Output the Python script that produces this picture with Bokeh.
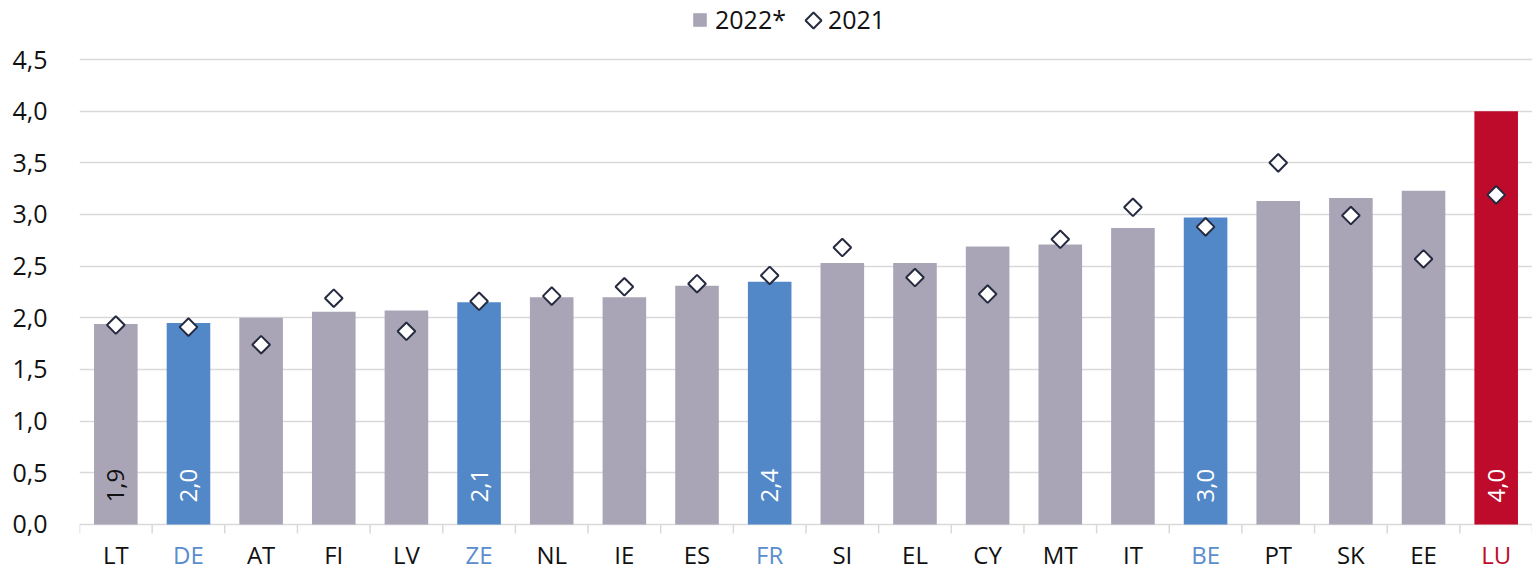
import numpy as np
from bokeh.plotting import figure
from bokeh.models import (ColumnDataSource, Range1d, FixedTicker, Legend, LegendItem,
                          PolyAnnotation)
from bokeh.core.properties import value
from bokeh.embed import file_html
from bokeh.resources import INLINE

# ---- data ----
countries = ["LT", "DE", "AT", "FI", "LV", "ZE", "NL", "IE", "ES", "FR",
             "SI", "EL", "CY", "MT", "IT", "BE", "PT", "SK", "EE", "LU"]
v2022 = [1.94, 1.95, 2.00, 2.06, 2.07, 2.15, 2.20, 2.20, 2.31, 2.35,
         2.53, 2.53, 2.69, 2.71, 2.87, 2.97, 3.13, 3.16, 3.23, 4.00]
v2021 = [1.93, 1.91, 1.74, 2.19, 1.87, 2.16, 2.21, 2.30, 2.33, 2.41,
         2.68, 2.39, 2.23, 2.76, 3.07, 2.88, 3.50, 2.99, 2.57, 3.19]
bar_labels = ["1,9", "2,0", "", "", "", "2,1", "", "", "", "2,4",
              "", "", "", "", "", "3,0", "", "", "", "4,0"]
groups = ["other", "focus", "other", "other", "other", "focus", "other", "other", "other", "focus",
          "other", "other", "other", "other", "other", "focus", "other", "other", "other", "lu"]
y_ticks = [0.0, 0.5, 1.0, 1.5, 2.0, 2.5, 3.0, 3.5, 4.0, 4.5]

# ---- styles ----
GRAY = "#a9a5b6"
BLUE = "#5288c7"
RED = "#be0a2b"
DARK = "#111111"
GRID = "#d9d9d9"
MARK_LINE = "#262a40"
FONT = "Open Sans"
bar_color_map = {"other": GRAY, "focus": BLUE, "lu": RED}
label_color_map = {"other": DARK, "focus": "#5a8dcd", "lu": RED}
in_color_map = {"other": DARK, "focus": "white", "lu": "white"}

n = len(countries)
xs = list(range(n))
src = ColumnDataSource(dict(
    x=xs,
    country=countries,
    v2022=v2022,
    v2021=v2021,
    bar_label=bar_labels,
    color=[bar_color_map[g] for g in groups],
    label_color=[label_color_map[g] for g in groups],
    in_color=[in_color_map[g] for g in groups],
))

H = 571
LEFT = 79
p = figure(width=1532, height=H,
           x_range=Range1d(-0.5, n - 0.5), y_range=Range1d(-0.455, 5.071),
           output_backend="svg", toolbar_location=None,
           min_border_left=LEFT, min_border_right=0,
           min_border_top=0, min_border_bottom=0)
p.outline_line_color = None
p.background_fill_color = "white"
p.xaxis.visible = False
p.xgrid.visible = False

p.ygrid.ticker = FixedTicker(ticks=y_ticks)
p.ygrid.grid_line_color = GRID
p.ygrid.grid_line_width = 1.5
p.yaxis.ticker = FixedTicker(ticks=y_ticks)
p.yaxis.major_label_overrides = {t: f"{t:.1f}".replace(".", ",") for t in y_ticks}
p.yaxis.axis_line_color = None
p.yaxis.major_tick_line_color = None
p.yaxis.minor_tick_line_color = None
p.yaxis.major_label_text_font_size = "25px"
p.yaxis.major_label_text_font = FONT
p.yaxis.major_label_text_color = DARK
p.yaxis.major_label_standoff = 26

bars = p.vbar(x="x", top="v2022", bottom=0, width=0.6, source=src,
              fill_color="color", line_color=None)
diam = p.scatter(x="x", y="v2021", source=src, marker="square", angle=np.pi / 4,
                 size=12.5, fill_color="white", line_color=MARK_LINE, line_width=2)

# category separator ticks below the zero line
bounds = [i - 0.5 for i in range(n + 1)]
p.segment(x0=bounds, y0=[0] * len(bounds), x1=bounds, y1=[-0.087] * len(bounds),
          line_color=GRID, line_width=1.5)

# category labels
p.text(x="x", y=0, text="country", source=src, text_color="label_color",
       text_align="center", text_baseline="middle", y_offset=30,
       text_font=value(FONT), text_font_size="24px")

# in-bar value labels
p.text(x="x", y=0, text="bar_label", source=src, text_color="in_color",
       angle=np.pi / 2, text_align="left", text_baseline="middle", y_offset=-22,
       text_font=value(FONT), text_font_size="24px")

# legend (2021 symbol drawn as a rotated-square annotation over an invisible glyph)
legend_dummy = p.scatter(x=[], y=[], marker="square", size=1,
                         fill_alpha=0, line_alpha=0)
legend = Legend(items=[LegendItem(label="2022*", renderers=[bars], index=0),
                       LegendItem(label="2021", renderers=[legend_dummy])],
                orientation="horizontal", location=(612, H - 36),
                padding=0, margin=0, spacing=18, label_standoff=7,
                glyph_width=17, glyph_height=17,
                label_text_font_size="25px", label_text_font=FONT,
                label_text_color=DARK,
                border_line_color=None, background_fill_alpha=0)
p.add_layout(legend)
# symbol centre: 813 px from the page's left, 20 px from its top (frame-relative, y from bottom)
cx, cy, r = 813 - LEFT, H - 20, 8
p.add_layout(PolyAnnotation(xs=[cx, cx + r, cx, cx - r], ys=[cy + r, cy, cy - r, cy],
                            xs_units="screen", ys_units="screen",
                            fill_color="white", fill_alpha=1.0,
                            line_color=MARK_LINE, line_alpha=1.0, line_width=2))

open("out.html", "w").write(file_html(p, INLINE))
